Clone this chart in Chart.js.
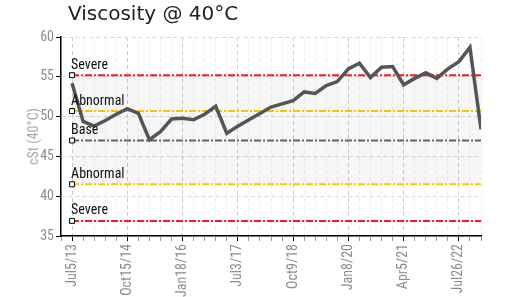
<!DOCTYPE html>
<html>
<head>
<meta charset="utf-8">
<script src="https://cdn.jsdelivr.net/npm/chart.js@4.4.0/dist/chart.umd.min.js"></script>
<style>
    body { margin: 0; background: #fff; }
    #wrap { width: 511px; height: 297px; }
</style>
</head>
<body>
<div id="wrap"><canvas id="viscosityChart"></canvas></div>
<script>
// tick labels shown every 5th sample
const tickLabels = ['Jul5/13', 'Oct15/14', 'Jan18/16', 'Jul3/17', 'Oct9/18', 'Jan8/20', 'Apr5/21', 'Jul26/22'];

// viscosity samples, one per sample index
const viscosity = [
    54.2, 49.4, 48.8, 49.5, 50.3, 51.0, 50.4, 47.1, 48.1, 49.7,
    49.8, 49.6, 50.3, 51.3, 47.9, 48.8, 49.6, 50.4, 51.2, 51.6,
    52.0, 53.1, 52.9, 53.9, 54.4, 56.0, 56.7, 54.9, 56.2, 56.3,
    54.0, 54.8, 55.5, 54.8, 56.0, 56.9, 58.7, 48.4
];

// alarm limits
const limitNames = ['Severe', 'Abnormal', 'Base', 'Abnormal', 'Severe'];
const limitValues = [55.2, 50.7, 47.0, 41.5, 36.9];
const limitColors = ['#ff1a1a', '#ffcc00', '#666666', '#ffcc00', '#ff1a1a'];

const narrow = "'Liberation Sans Narrow', 'Roboto Condensed', 'DejaVu Sans Condensed', sans-serif";
const lastIdx = viscosity.length - 1;

const datasets = [{
    label: 'Viscosity',
    data: viscosity.map((v, i) => ({ x: i, y: v })),
    borderColor: '#555555',
    borderWidth: 3.5,
    pointRadius: 0,
    tension: 0,
    fill: false
}];

limitValues.forEach((v, k) => {
    datasets.push({
        label: limitNames[k],
        data: [{ x: 0, y: v }, { x: lastIdx, y: v }],
        borderColor: limitColors[k],
        borderWidth: 2,
        borderDash: [7, 2, 2, 2],
        pointStyle: 'rect',
        pointRadius: ctx => ctx.dataIndex === 0 ? 3.5 : 0,
        pointBackgroundColor: '#fff',
        pointBorderColor: '#000',
        pointBorderWidth: 1,
        // shaded band between upper severe and lower abnormal
        fill: k === 0 ? 4 : false,
        backgroundColor: 'rgba(0,0,0,0.035)'
    });
});

const limitLabels = {
    id: 'limitLabels',
    afterLayout(chart) {
        // nudge the title a little right of the plot edge
        if (chart.titleBlock) chart.titleBlock.left += 7;
    },
    afterDatasetsDraw(chart) {
        const ctx = chart.ctx;
        ctx.save();
        ctx.font = '14px ' + narrow;
        ctx.fillStyle = '#111';
        ctx.textBaseline = 'bottom';
        ctx.textAlign = 'left';
        for (let k = 0; k < limitNames.length; k++) {
            const pt = chart.getDatasetMeta(k + 1).data[0];
            ctx.fillText(limitNames[k], pt.x - 1, pt.y - 3);
        }
        ctx.restore();
    }
};

const isMajor = c => c.tick && c.tick.value >= 0 && c.tick.value % 5 === 0;

const ctx = document.getElementById('viscosityChart').getContext('2d');
new Chart(ctx, {
    type: 'line',
    data: { datasets: datasets },
    options: {
        responsive: true,
        maintainAspectRatio: false,
        animation: false,
        layout: { padding: { right: 30 } },
        plugins: {
            legend: { display: false },
            tooltip: { enabled: false },
            title: {
                display: true,
                text: 'Viscosity @ 40°C',
                align: 'start',
                fullSize: false,
                color: '#222',
                font: { family: 'DejaVu Sans', size: 20, weight: 'normal' },
                padding: { top: 3, bottom: 10 }
            }
        },
        scales: {
            x: {
                type: 'linear',
                min: -1,
                max: lastIdx,
                afterFit: scale => { scale.height = 61; },
                border: { display: true, color: '#000', width: 1.5, dash: [4, 3] },
                grid: {
                    color: c => isMajor(c) ? '#cccccc' : '#eeeeee',
                    tickColor: c => isMajor(c) ? '#000' : '#999',
                    tickLength: 5,
                    tickBorderDash: [0, 0]
                },
                ticks: {
                    stepSize: 1,
                    maxTicksLimit: 100,
                    autoSkip: false,
                    minRotation: 90,
                    maxRotation: 90,
                    color: '#8c8c8c',
                    font: { family: narrow, size: 14 },
                    callback: v => (v >= 0 && v % 5 === 0) ? tickLabels[v / 5] : ''
                }
            },
            y: {
                min: 35,
                max: 60,
                afterFit: scale => { scale.width = 61; },
                border: { display: true, color: '#000', width: 1.5, dash: [4, 3] },
                grid: {
                    color: '#d8d8d8',
                    tickColor: '#000',
                    tickLength: 5,
                    tickBorderDash: [0, 0]
                },
                title: {
                    display: true,
                    text: 'cSt (40°C)',
                    color: '#aaa',
                    font: { family: narrow, size: 14 },
                    padding: { top: 26, bottom: 0 }
                },
                ticks: {
                    stepSize: 5,
                    color: '#8c8c8c',
                    padding: 2,
                    font: { family: narrow, size: 14 }
                }
            }
        }
    },
    plugins: [limitLabels]
});
</script>
</body>
</html>
